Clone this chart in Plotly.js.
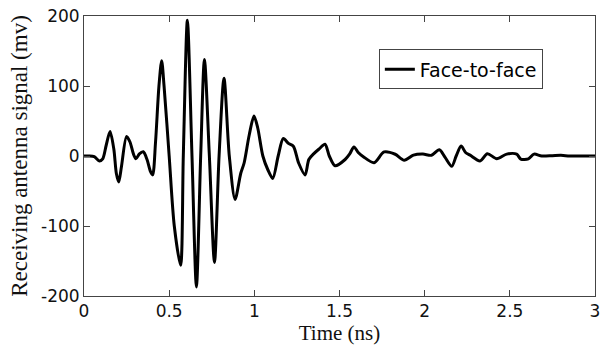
<!DOCTYPE html>
<html>
<head>
<meta charset="utf-8">
<script src="https://cdn.plot.ly/plotly-3.0.1.min.js"></script>
<style>html,body{margin:0;padding:0;background:#fff;}#chart{width:600px;height:347px;}</style>
</head>
<body>
<div id="chart"></div>
<script>
const timeNs = [0,0.03,0.06,0.09,0.11,0.13,0.153,0.175,0.19,0.204,0.22,0.25,0.27,0.29,0.305,0.325,0.348,0.37,0.39,0.403,0.42,0.44,0.456,0.47,0.50,0.53,0.567,0.583,0.607,0.634,0.66,0.685,0.707,0.736,0.766,0.793,0.822,0.853,0.887,0.92,0.94,0.97,0.998,1.02,1.05,1.08,1.108,1.14,1.17,1.2,1.229,1.26,1.298,1.32,1.348,1.38,1.415,1.44,1.474,1.533,1.56,1.585,1.61,1.64,1.703,1.762,1.827,1.88,1.934,1.99,2.04,2.086,2.12,2.159,2.185,2.214,2.24,2.267,2.325,2.368,2.423,2.482,2.54,2.564,2.609,2.642,2.687,2.75,2.8,2.85,2.9,3.0];
const signalMv = [0,0,-1,-7,-4,15,35,10,-25,-37,-15,28,20,3,-4,3,6,-5,-22,-27,20,100,136,100,0,-100,-156,0,194,0,-187,0,138,0,-152,0,111,0,-62,-25,-10,30,57,40,0,-20,-32,0,25,18,14,-10,-27,-5,3,10,16.7,0,-14,-5,3,13,5,-1,-9.5,5.8,2.5,-6,1.3,2.7,1,9,-2,-14.7,0,14.3,5,1.2,-7,3.3,-3.8,2.7,2.7,-4.3,-4,2.7,0,0.5,1,0,0,0];
const xTickVals = [0,0.5,1,1.5,2,2.5,3];
const xTickText = ["0","0.5","1","1.5","2","2.5","3"];
const yTickVals = [-200,-100,0,100,200];
const yTickText = ["-200","-100","0","100","200"];

const axisCommon = {
  showgrid:false, zeroline:false, showline:true, linecolor:'#444', linewidth:1,
  mirror:'ticks', ticks:'inside', ticklen:6, tickcolor:'#444', tickwidth:1,
  ticklabeloverflow:'allow',
  tickfont:{family:'DejaVu Sans', size:17, color:'#111'}
};

const data = [{
  x: timeNs, y: signalMv, type:'scatter', mode:'lines', name:'Face-to-face',
  line:{color:'#000', width:3, shape:'spline', smoothing:0.8}
}];

const layout = {
  width:600, height:347,
  margin:{l:84, r:5, t:16, b:51, pad:0},
  paper_bgcolor:'#fff', plot_bgcolor:'#fff',
  showlegend:true,
  legend:{x:0.577, y:0.881, xanchor:'left', yanchor:'top', bgcolor:'#fff',
    bordercolor:'#444', borderwidth:1, font:{family:'DejaVu Sans', size:19, color:'#000'}},
  xaxis: Object.assign({}, axisCommon, {
    range:[0,3], tickvals:xTickVals, ticktext:xTickText,
    title:{text:'Time (ns)', font:{family:'Liberation Serif', size:21, color:'#111'}, standoff:2}
  }),
  yaxis: Object.assign({}, axisCommon, {
    range:[-200,200], tickvals:yTickVals, ticktext:yTickText,
    title:{text:'Receiving antenna signal (mv)', font:{family:'Liberation Serif', size:23, color:'#111'}, standoff:6}
  })
};

Plotly.newPlot('chart', data, layout, {staticPlot:true, displayModeBar:false});
</script>
</body>
</html>
